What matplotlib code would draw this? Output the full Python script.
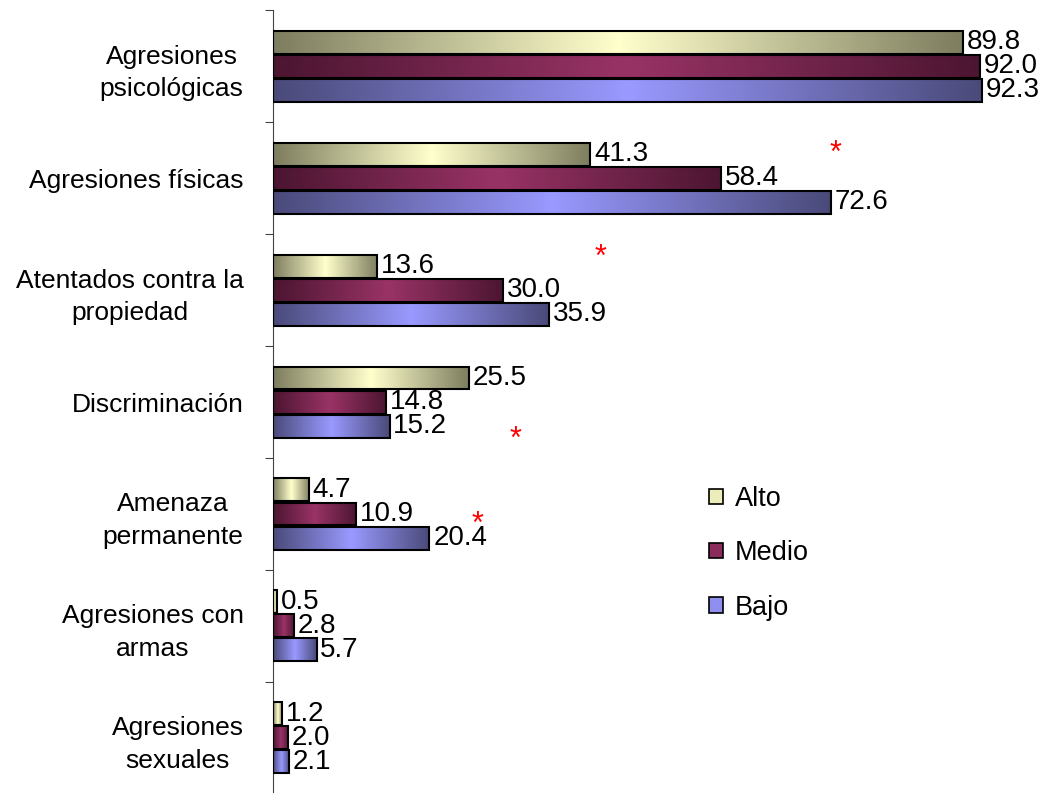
import numpy as np
import matplotlib
matplotlib.use("Agg")
import matplotlib.pyplot as plt
from matplotlib.colors import LinearSegmentedColormap
from matplotlib.patches import Patch

plt.rcParams['font.family'] = ['Liberation Sans', 'DejaVu Sans']

# Data
categories = ["Agresiones\npsicológicas", "Agresiones físicas", "Atentados contra la\npropiedad",
              "Discriminación", "Amenaza\npermanente", "Agresiones con\narmas", "Agresiones\nsexuales"]
alto = [89.8, 41.3, 13.6, 25.5, 4.7, 0.5, 1.2]
medio = [92.0, 58.4, 30.0, 14.8, 10.9, 2.8, 2.0]
bajo = [92.3, 72.6, 35.9, 15.2, 20.4, 5.7, 2.1]
series_names = ["Alto", "Medio", "Bajo"]

# Red significance markers (x value, category index + offset)
star_x = [73.2, 42.6, 31.6, 26.7]
star_y = [0.78, 1.71, 3.34, 4.10]

# Colour pairs: (edge dark, centre light)
series_colors = [("#77775a", "#ffffcc"), ("#48142e", "#993366"), ("#464673", "#9999ff")]
legend_colors = ["#ecedb9", "#8c2c5c", "#8f8ff0"]

fig = plt.figure(figsize=(10.57, 7.93), dpi=100)
ax = fig.add_axes([0.258, -0.001, 0.727, 0.988])

y = np.arange(len(categories))
offsets = [-0.215, 0.0, 0.215]
bar_h = 0.205
grad = np.abs(np.linspace(-1, 1, 256)).reshape(1, -1)

for values, off, (dark, light) in zip([alto, medio, bajo], offsets, series_colors):
    cmap = LinearSegmentedColormap.from_list("g", [light, dark])
    for yi, v in zip(y, values):
        ax.imshow(grad, cmap=cmap, aspect='auto', vmin=0, vmax=1.05,
                  extent=(0, v, yi + off + bar_h / 2, yi + off - bar_h / 2), zorder=2)
    ax.barh(y + off, values, height=bar_h, facecolor='none', edgecolor='black', linewidth=1.5, zorder=3)
    for yi, v in zip(y, values):
        ax.text(v + 0.5, yi + off, "%.1f" % v, ha='left', va='center', fontsize=20, zorder=4)

for sx, sy in zip(star_x, star_y):
    ax.text(sx, sy, "*", color='red', fontsize=22, ha='center', va='center', zorder=5)

ax.set_xlim(0, 100)
ax.set_ylim(len(categories) - 0.5, -0.5)
ax.set_yticks(y)
ax.set_yticklabels(categories, fontsize=19, linespacing=1.45)
for lab in ax.get_yticklabels():
    lab.set_multialignment('center')
    lab.set_y(lab.get_position()[1])
ax.set_yticks(np.arange(-0.5, len(categories)), minor=True)
ax.tick_params(axis='y', which='major', length=0, pad=21)
ax.tick_params(axis='y', which='minor', length=6, width=0.8, direction='out', color='#444444')
ax.set_xticks([])
for s in ['top', 'right', 'bottom']:
    ax.spines[s].set_visible(False)
ax.spines['left'].set_color('#444444')
ax.spines['left'].set_linewidth(0.8)

handles = [Patch(facecolor=c, edgecolor='black', linewidth=1.2) for c in legend_colors]
fig.legend(handles, series_names, loc='upper left', bbox_to_anchor=(0.648, 0.418), frameon=False,
           fontsize=19.5, handlelength=0.5, handleheight=0.5, handletextpad=0.45, labelspacing=1.05)

fig.savefig("out.png", dpi=100)
